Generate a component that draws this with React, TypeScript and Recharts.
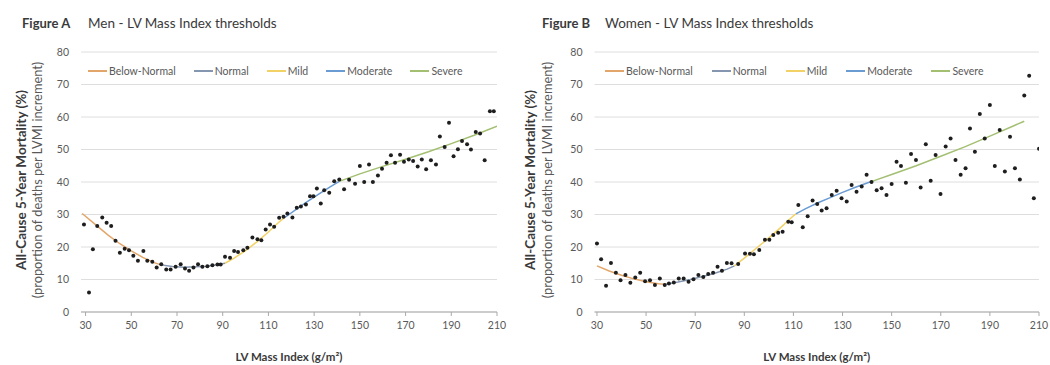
import { ScatterChart, Scatter, XAxis, YAxis, CartesianGrid } from "recharts"

// LV mass index (g/m2) and 5-year mortality (%)
const menLvmi = [
  29.3, 31.5, 33.2, 35.1, 37.3, 39.2, 41.2, 43.1, 45.0, 47.1, 49.0, 50.9, 52.9, 55.3, 57.0, 59.2,
  61.1, 63.1, 65.3, 67.2, 69.4, 71.6, 73.5, 75.3, 77.2, 79.2, 81.1, 83.3, 85.5, 87.7, 89.1, 91.0,
  93.2, 95.0, 96.7, 99.0, 100.8, 103.0, 105.2, 106.9, 108.8, 110.7, 112.5, 114.7, 116.6, 118.3,
  120.5, 122.4, 124.2, 126.4, 128.2, 129.7, 131.2, 132.9, 134.4, 136.6, 138.8, 141.0, 143.1, 145.3,
  147.9, 150.0, 151.9, 154.0, 155.7, 157.9, 159.7, 161.7, 163.6, 165.4, 167.6, 169.3, 171.4, 173.3,
  175.3, 177.1, 179.0, 181.1, 183.3, 185.0, 187.1, 189.0, 191.0, 192.9, 194.7, 196.9, 198.6, 200.7,
  202.6, 204.6, 206.9, 208.6,
]
const menMortality = [
  26.9, 6.0, 19.3, 26.5, 29.1, 27.5, 26.5, 21.9, 18.2, 19.5, 19.0, 17.3, 15.8, 18.8, 15.8, 15.5,
  13.7, 14.7, 13.1, 13.1, 13.9, 14.7, 13.4, 12.7, 13.7, 14.7, 13.9, 14.1, 14.4, 14.6, 14.6, 17.0,
  16.7, 18.8, 18.5, 19.0, 19.8, 22.9, 22.4, 22.1, 25.4, 26.9, 26.2, 29.0, 29.3, 30.3,
  29.1, 32.1, 32.5, 33.1, 35.6, 35.6, 38.0, 33.4, 37.5, 36.7, 40.2, 40.8, 37.8, 40.7,
  39.5, 44.9, 40.0, 45.4, 40.0, 42.0, 44.1, 45.9, 48.2, 45.9, 48.4, 46.2, 46.9, 46.5,
  44.8, 46.9, 43.9, 46.7, 45.4, 54.0, 50.8, 58.2, 47.9, 50.1, 52.6, 51.6, 50.0, 55.4,
  54.9, 46.7, 61.8, 61.8,
]

const womenLvmi = [
  30.0, 31.7, 33.7, 35.7, 37.7, 39.6, 41.6, 43.6, 45.6, 47.6, 49.6, 51.6, 53.6, 55.6, 57.6, 59.3,
  61.3, 63.3, 65.3, 67.3, 69.3, 71.3, 73.3, 75.3, 77.3, 79.1, 80.9, 82.9, 84.8, 87.5, 90.3, 92.3,
  93.9, 96.1, 98.4, 100.2, 101.8, 103.8, 105.6, 107.9, 109.3, 112.0, 113.8, 115.8, 117.8, 119.7,
  121.5, 123.5, 125.6, 127.6, 129.6, 131.7, 133.7, 135.7, 137.8, 139.8, 141.8, 143.9, 145.9, 147.9,
  150.0, 152.0, 153.8, 155.8, 157.9, 159.9, 161.8, 163.9, 165.9, 167.9, 169.9, 172.0, 174.0, 176.0,
  178.1, 180.1, 181.9, 183.9, 185.9, 187.9, 190.0, 192.0, 194.0, 196.1, 198.2, 200.2, 202.2, 204.0,
  206.0, 207.9, 210.0,
]
const womenMortality = [
  21.1, 16.2, 8.1, 15.1, 12.1, 9.8, 11.4, 9.0, 10.6, 12.1, 9.5, 9.8, 8.3, 10.3, 8.3, 8.8,
  9.1, 10.3, 10.3, 9.3, 10.1, 11.4, 10.8, 11.7, 12.1, 13.9, 12.7, 15.1, 15.0, 14.8, 18.0, 17.9,
  17.8, 19.1, 22.2, 22.2, 23.7, 24.4, 24.7, 27.8, 27.6, 32.9, 26.1, 29.5, 34.3, 33.2,
  31.2, 31.9, 36.0, 37.3, 35.0, 34.0, 39.1, 37.0, 38.6, 42.2, 40.0, 37.5, 38.1, 36.0,
  39.4, 46.2, 44.9, 39.8, 48.6, 46.8, 38.3, 51.6, 40.4, 48.3, 36.3, 50.9, 53.4, 46.8,
  42.2, 44.2, 56.5, 49.3, 60.9, 53.4, 63.7, 44.9, 56.0, 43.2, 53.9, 44.2, 40.8, 66.6,
  72.7, 35.0, 50.2,
]

// fitted trend per LVMI category, [lvmi, mortality]
const menBelowNormal = [[28.5, 30.3], [35, 26.5], [40, 23.6], [45, 21], [50, 18.8], [55, 16.8], [60, 15.2], [63, 14.5]]
const menNormal = [[63, 14.5], [68, 14], [73, 13.8], [78, 13.9], [83, 14.1], [88, 14.6], [91, 15]]
const menMild = [[91, 15], [95, 16.6], [100, 18.9], [105, 21.6], [110, 24.6], [115, 27.9], [117, 29]]
const menModerate = [[117, 29], [122, 31.5], [127, 34], [132, 36.3], [137, 38.5], [141, 40.2]]
const menSevere = [[141, 40.2], [150, 42.5], [160, 44.8], [170, 47], [180, 49.3], [190, 51.8], [200, 54.4], [210, 57.2]]

const womenBelowNormal = [[30, 14.2], [35, 12.6], [40, 11.3], [45, 10.2], [50, 9.3], [55, 8.7], [58, 8.5]]
const womenNormal = [[58, 8.5], [63, 9.2], [68, 10], [73, 10.9], [78, 11.9], [83, 13.2], [86, 14.2]]
const womenMild = [[86, 14.2], [90, 16.6], [95, 19.7], [100, 22.8], [105, 26.1], [110, 29.6], [111, 30.2]]
const womenModerate = [[111, 30.2], [115, 31.8], [120, 33.6], [125, 35.2], [130, 36.8], [135, 38.3], [140, 39.7], [142, 40.2]]
const womenSevere = [[142, 40.2], [150, 42.3], [160, 45], [170, 47.9], [180, 50.9], [190, 54.1], [200, 57.4], [204, 58.7]]

const categories = ["Below-Normal", "Normal", "Mild", "Moderate", "Severe"]
const categoryColors = ["#e3a66a", "#8496b0", "#f2d266", "#6a9bd3", "#a3bf72"]

const xTicks = [30, 50, 70, 90, 110, 130, 150, 170, 190, 210]
const yTicks = [0, 10, 20, 30, 40, 50, 60, 70, 80]

const FONT = "Lato, 'Open Sans', sans-serif"

function toPoints(pairs: number[][]) {
  return pairs.map(([x, y]) => ({ x, y }))
}

interface PanelProps {
  left: number
  width: number
  margin: { top: number; right: number; bottom: number; left: number }
  domain: [number, number]
  lvmi: number[]
  mortality: number[]
  trends: number[][][]
}

function Panel({ left, width, margin, domain, lvmi, mortality, trends }: PanelProps) {
  const points = lvmi.map((x, i) => ({ x, y: mortality[i] }))
  return (
    <div style={{ position: "absolute", left, top: 0 }}>
      <ScatterChart width={width} height={365} margin={margin}>
        <CartesianGrid vertical={false} stroke="#dedede" />
        <XAxis
          type="number"
          dataKey="x"
          domain={domain}
          ticks={xTicks}
          interval={0}
          allowDataOverflow
          height={50}
          tickSize={4}
          tickMargin={6}
          axisLine={{ stroke: "#a9a9a9" }}
          tickLine={{ stroke: "#a9a9a9" }}
          tick={{ fontSize: 10.5, fill: "#595959", fontFamily: FONT }}
          label={{
            value: "LV Mass Index (g/m²)",
            position: "insideBottom",
            offset: 1,
            style: { fontSize: 11.5, fontWeight: 700, fill: "#3a3a3a", fontFamily: FONT },
          }}
        />
        <YAxis
          type="number"
          dataKey="y"
          domain={[0, 80]}
          ticks={yTicks}
          interval={0}
          width={30}
          axisLine={false}
          tickLine={false}
          tickSize={0}
          tickMargin={12}
          tick={{ fontSize: 10.5, fill: "#595959", fontFamily: FONT }}
        />
        {trends.map((t, i) => (
          <Scatter
            key={categories[i]}
            name={categories[i]}
            data={toPoints(t)}
            line={{ stroke: categoryColors[i], strokeWidth: 1.5 }}
            lineType="joint"
            shape={() => <g />}
            isAnimationActive={false}
          />
        ))}
        <Scatter
          name="observed"
          data={points}
          shape={(p: any) => <circle cx={p.cx} cy={p.cy} r={2} fill="#1e1e1e" />}
          isAnimationActive={false}
        />
      </ScatterChart>
    </div>
  )
}

function LegendRow({ left, top, gap }: { left: number; top: number; gap: number }) {
  return (
    <div
      style={{
        position: "absolute",
        left,
        top,
        display: "flex",
        gap,
        fontFamily: FONT,
        fontSize: 10.5,
        lineHeight: "12px",
        color: "#595959",
        alignItems: "center",
        whiteSpace: "nowrap",
      }}
    >
      {categories.map((c, i) => (
        <div key={c} style={{ display: "flex", alignItems: "center" }}>
          <span style={{ display: "inline-block", width: 19, height: 2, background: categoryColors[i], marginRight: 2 }} />
          <span>{c}</span>
        </div>
      ))}
    </div>
  )
}

function Titles() {
  const yLabel = (x: number, text: string, size: number, weight: number) => (
    <text
      transform={`translate(${x},180) rotate(-90)`}
      textAnchor="middle"
      dominantBaseline="central"
      fontSize={size}
      fontWeight={weight}
      fill={weight > 500 ? "#3a3a3a" : "#595959"}
      fontFamily={FONT}
    >
      {text}
    </text>
  )
  return (
    <svg width={1050} height={365} style={{ position: "absolute", left: 0, top: 0, pointerEvents: "none" }}>
      <text x={22} y={28} fontSize={13} fontWeight={700} fill="#3a3a3a" fontFamily={FONT}>Figure A</text>
      <text x={88} y={28} fontSize={13.5} fill="#3a3a3a" fontFamily={FONT}>Men - LV Mass Index thresholds</text>
      <text x={542} y={28} fontSize={13} fontWeight={700} fill="#3a3a3a" fontFamily={FONT}>Figure B</text>
      <text x={605} y={28} fontSize={13.5} fill="#3a3a3a" fontFamily={FONT}>Women - LV Mass Index thresholds</text>
      {yLabel(21, "All-Cause 5-Year Mortality (%)", 13.5, 700)}
      {yLabel(37, "(proportion of deaths per LVMI increment)", 12.8, 400)}
      {yLabel(530, "All-Cause 5-Year Mortality (%)", 13.5, 700)}
      {yLabel(547, "(proportion of deaths per LVMI increment)", 12.8, 400)}
    </svg>
  )
}

export default function App() {
  return (
    <div style={{ position: "absolute", left: 0, top: 0, width: 1050, height: 365, background: "#fff", overflow: "hidden" }}>
      <Panel
        left={0}
        width={520}
        margin={{ top: 52, right: 23, bottom: 3, left: 51 }}
        domain={[28, 210]}
        lvmi={menLvmi}
        mortality={menMortality}
        trends={[menBelowNormal, menNormal, menMild, menModerate, menSevere]}
      />
      <Panel
        left={510}
        width={540}
        margin={{ top: 52, right: 11, bottom: 3, left: 54.5 }}
        domain={[29, 210]}
        lvmi={womenLvmi}
        mortality={womenMortality}
        trends={[womenBelowNormal, womenNormal, womenMild, womenModerate, womenSevere]}
      />
      <LegendRow left={88} top={65} gap={18} />
      <LegendRow left={605} top={65} gap={19} />
      <Titles />
    </div>
  )
}
